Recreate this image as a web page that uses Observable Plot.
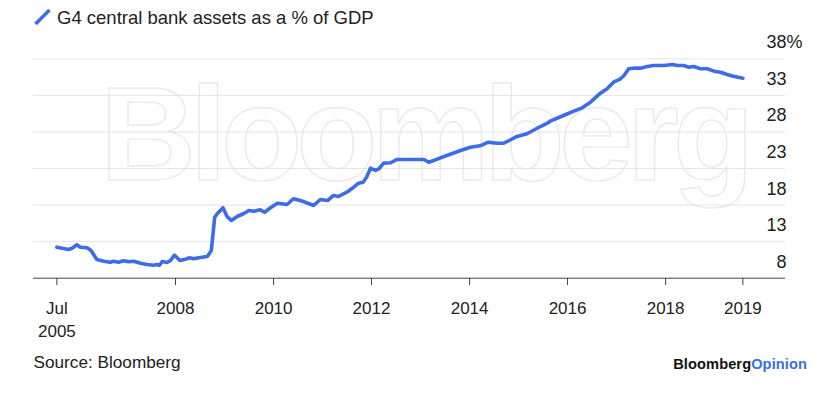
<!DOCTYPE html>
<html><head><meta charset="utf-8">
<script src="https://cdn.jsdelivr.net/npm/d3@7"></script>
<script src="https://cdn.jsdelivr.net/npm/@observablehq/plot@0.6"></script>
<style>html,body{margin:0;padding:0;background:#fff;} #chart{width:828px;height:397px;}</style>
</head><body><div id="chart"></div>
<script>
const seriesName = "G4 central bank assets as a % of GDP";
const sourceText = "Source: Bloomberg";
const dates = [
"2005-07-31","2005-09-09","2005-10-26","2005-11-21","2005-12-27","2006-01-22","2006-03-13","2006-04-11","2006-05-25","2006-07-15",
"2006-09-02","2006-09-27","2006-11-03","2006-12-09","2007-01-19","2007-02-25","2007-04-15","2007-06-02","2007-07-22","2007-08-17",
"2007-09-02","2007-09-24","2007-10-30","2007-11-25","2007-12-24","2008-02-03","2008-03-13","2008-04-15","2008-05-14","2008-07-04",
"2008-08-25","2008-09-24","2008-10-19","2008-11-07","2008-12-20","2009-01-22","2009-02-21","2009-04-04","2009-05-21","2009-07-01",
"2009-08-07","2009-09-24","2009-10-26","2009-12-09","2010-01-30","2010-04-11","2010-05-29","2010-07-19","2010-08-25","2010-10-26",
"2010-12-16","2011-02-07","2011-03-24","2011-04-29","2011-07-01","2011-08-21","2011-09-27","2011-10-30","2011-11-25","2011-12-24",
"2012-01-30","2012-02-25","2012-04-01","2012-05-21","2012-07-08","2012-08-29","2013-01-26","2013-03-02","2013-04-08","2013-05-29",
"2013-07-15","2013-10-26","2014-01-08","2014-03-20","2014-05-21","2014-07-26","2014-09-13","2014-11-03","2014-12-20","2015-03-05",
"2015-06-13","2015-08-03","2015-08-25","2015-12-02","2016-02-17","2016-04-19","2016-06-20","2016-09-02","2016-10-22","2016-12-09",
"2017-01-30","2017-02-25","2017-04-01","2017-05-07","2017-06-27","2017-08-17","2017-10-04","2017-12-20","2018-02-21","2018-03-27",
"2018-05-14","2018-06-24","2018-07-30","2018-09-17","2018-11-07","2018-12-27","2019-02-14","2019-04-04","2019-05-21","2019-07-31"
];
const values = [
12.24,12.10,11.92,12.10,12.57,12.24,12.16,11.79,10.56,10.32,
10.19,10.32,10.19,10.38,10.24,10.32,10.05,9.87,9.78,9.87,
9.74,10.28,10.15,10.42,11.15,10.42,10.60,10.79,10.65,10.83,
10.97,11.79,16.34,16.81,17.63,16.34,15.89,16.44,16.81,17.26,
17.16,17.35,17.02,17.63,18.26,18.08,18.86,18.62,18.39,17.94,
18.76,18.62,19.31,19.17,19.76,20.44,20.99,21.13,21.81,23.04,
22.73,22.96,23.73,23.78,24.23,24.23,24.23,23.86,24.09,24.46,
24.78,25.46,25.91,26.10,26.60,26.46,26.46,26.93,27.38,27.75,
28.74,29.20,29.47,30.25,30.84,31.30,32.07,33.30,33.90,34.80,
35.27,35.72,36.63,36.72,36.72,36.95,37.08,37.08,37.22,37.08,
37.08,36.85,36.95,36.63,36.63,36.31,36.17,35.85,35.62,35.35
];
const xTickDates = ["2005-07-31","2008-01-01","2010-01-01","2012-01-01","2014-01-01","2016-01-01","2018-01-01","2019-07-31"];
const xTickLabels = ["Jul\n2005","2008","2010","2012","2014","2016","2018","2019"];
const yTicks = [8,13,18,23,28,33,38];
const yTickLabels = ["8","13","18","23","28","33","38"];

const data = dates.map((d,i)=>({date:new Date(d), value:values[i]}));
const tickDates = xTickDates.map(d=>new Date(d));
const labelByTime = new Map(tickDates.map((d,i)=>[+d, xTickLabels[i]]));
const lineColor = "#3e6ce6";
const font = "'Liberation Sans', Arial, Helvetica, sans-serif";

const chart = Plot.plot({
  width: 828, height: 397,
  marginTop: 58, marginBottom: 119, marginLeft: 33, marginRight: 43,
  style: {fontFamily: font, fontSize: "17px", color: "#222", background: "#fff", overflow: "visible"},
  x: {type: "utc", domain: [tickDates[0], tickDates[tickDates.length-1]], range: [56.4, 742.4], label: null},
  y: {domain: [8, 38], range: [277.7, 58.3], label: null},
  marks: [
    Plot.ruleY(yTicks.slice(1), {stroke: "#e4e4e4", strokeWidth: 1}),
    Plot.ruleY([yTicks[0]], {stroke: "#444", strokeWidth: 1}),
    Plot.line(data, {x: "date", y: "value", stroke: lineColor, strokeWidth: 3.6, strokeLinejoin: "round", strokeLinecap: "round"}),
    Plot.axisX({ticks: tickDates, tickFormat: d => labelByTime.get(+d), tickSize: 7, tickPadding: 13, stroke: "#444", fontSize: 17, lineHeight: 1.31, fill: "#222", label: null}),
    Plot.axisY({anchor: "right", ticks: yTicks, tickFormat: (d) => yTickLabels[yTicks.indexOf(d)], tickSize: 0, tickPadding: 1, textAnchor: "end", dy: -16.3, fontSize: 18, fill: "#222", label: null}),
    Plot.text([yTicks[yTicks.length-1]], {y: d => d, text: () => "%", frameAnchor: "right", textAnchor: "start", dx: 1, dy: -16.3, fontSize: 18, fill: "#222"})
  ]
});
document.getElementById("chart").appendChild(chart);

const svg = d3.select(chart);
// watermark behind everything
svg.insert("text", ":first-child")
  .attr("x", 100).attr("y", 180).attr("text-anchor", "start")
  .attr("font-family", font).attr("font-weight", "bold").attr("font-size", 133)
  .attr("letter-spacing", -6)
  .attr("fill", "none").attr("stroke", "#ebebeb").attr("stroke-width", 1.5)
  .text("Bloomberg");
svg.insert("rect", ":first-child").attr("width", 828).attr("height", 397).attr("fill", "#fff");

// legend
svg.append("line").attr("x1", 35.5).attr("y1", 24).attr("x2", 49.5).attr("y2", 10)
  .attr("stroke", lineColor).attr("stroke-width", 3.6);
svg.append("text").attr("x", 57).attr("y", 24).attr("text-anchor", "start")
  .attr("font-family", font).attr("font-size", 18.5).attr("fill", "#222")
  .text(seriesName);

// source
svg.append("text").attr("x", 33.5).attr("y", 368).attr("text-anchor", "start")
  .attr("font-family", font).attr("font-size", 17.2).attr("fill", "#222")
  .text(sourceText);

// logo
const logo = svg.append("text").attr("x", 807).attr("y", 369).attr("text-anchor", "end")
  .attr("font-family", font).attr("font-weight", "bold").attr("font-size", 14.6).attr("letter-spacing", 0.1);
logo.append("tspan").attr("fill", "#111").text("Bloomberg");
logo.append("tspan").attr("fill", "#3b6fe8").text("Opinion");
</script>
</body></html>
